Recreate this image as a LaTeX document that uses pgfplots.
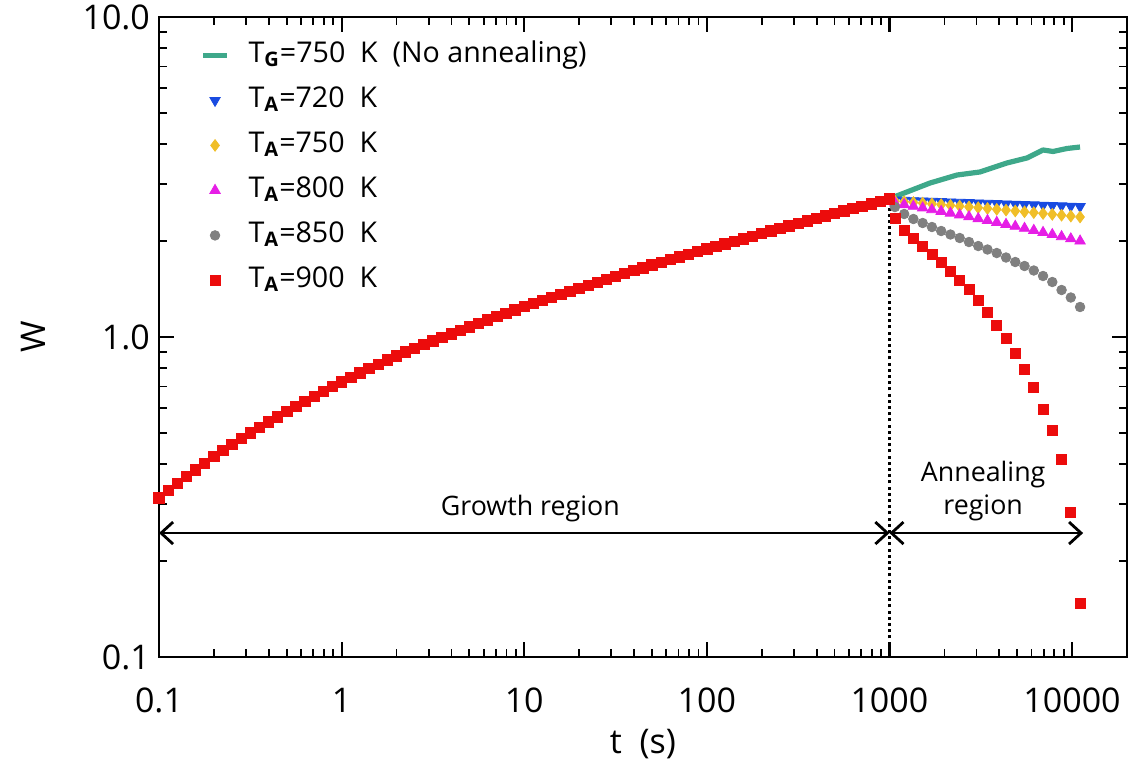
\documentclass[border=0pt]{standalone}
\usepackage{fontspec}
\setmainfont{Open Sans}
\usepackage{pgfplots}
\usepackage{pgfplotstable}
\pgfplotsset{compat=1.18}
\usetikzlibrary{arrows.meta}

\definecolor{cgreen}{RGB}{62,168,138}
\definecolor{cblue}{RGB}{25,75,225}
\definecolor{cyellow}{RGB}{240,190,40}
\definecolor{cmag}{RGB}{230,30,230}
\definecolor{cgray}{RGB}{128,128,128}
\definecolor{cred}{RGB}{236,12,12}

\pgfplotstableread{
t W
0.1 0.3140
0.11220 0.3311
0.12589 0.3486
0.14125 0.3666
0.15849 0.3849
0.17783 0.4036
0.19953 0.4227
0.22387 0.4420
0.25119 0.4615
0.28184 0.4813
0.31623 0.5012
0.35481 0.5216
0.39811 0.5424
0.44668 0.5636
0.50119 0.5853
0.56234 0.6074
0.63096 0.6301
0.70795 0.6531
0.79433 0.6766
0.89125 0.7003
1 0.7244
1.1220 0.7485
1.2589 0.7729
1.4125 0.7974
1.5849 0.8222
1.7783 0.8472
1.9953 0.8722
2.2387 0.8972
2.5119 0.9224
2.8184 0.9476
3.1623 0.9727
3.5481 0.9982
3.9811 1.0240
4.4668 1.0503
5.0119 1.0769
5.6234 1.1041
6.3096 1.1313
7.0795 1.1590
7.9433 1.1871
8.9125 1.2155
10 1.2445
11.220 1.2729
12.589 1.3017
14.125 1.3311
15.849 1.3608
17.783 1.3909
19.953 1.4217
22.387 1.4528
25.119 1.4842
28.184 1.5164
31.623 1.5488
35.481 1.5805
39.811 1.6125
44.668 1.6451
50.119 1.6780
56.234 1.7112
63.096 1.7450
70.795 1.7791
79.433 1.8134
89.125 1.8484
100 1.8836
112.20 1.9187
125.89 1.9544
141.25 1.9907
158.49 2.0277
177.83 2.0654
199.53 2.1038
223.87 2.1429
251.19 2.1827
281.84 2.2233
316.23 2.2646
354.81 2.3052
398.11 2.3464
446.68 2.3884
501.19 2.4311
562.34 2.4746
630.96 2.5188
707.95 2.5639
794.33 2.6097
891.25 2.6564
1000 2.7040
}\growth

\pgfplotstableread{
t b y m g r
1071.5 2.6800 2.6607 2.6227 2.5480 2.3490
1204.2 2.6737 2.6473 2.5924 2.4230 2.1600
1353.0 2.6675 2.6336 2.5619 2.3375 2.0340
1520.6 2.6612 2.6200 2.5312 2.2712 1.9250
1709.0 2.6550 2.6062 2.5003 2.2067 1.8170
1920.7 2.6488 2.5922 2.4693 2.1441 1.7090
2158.6 2.6426 2.5782 2.4381 2.0908 1.6080
2426.0 2.6365 2.5640 2.4068 2.0388 1.5070
2726.5 2.6303 2.5498 2.3755 1.9810 1.4100
3064.2 2.6242 2.5354 2.3440 1.9248 1.3050
3443.5 2.6181 2.5209 2.3124 1.8769 1.1970
3870.2 2.6120 2.5064 2.2808 1.8302 1.0900
4349.6 2.6059 2.4917 2.2491 1.7719 0.9906
4888.0 2.5998 2.4770 2.2173 1.7155 0.8894
5493.8 2.5937 2.4621 2.1856 1.6668 0.7927
6173.9 2.5877 2.4472 2.1538 1.6137 0.6963
6938.4 2.5816 2.4322 2.1220 1.5511 0.5944
7798.0 2.5756 2.4171 2.0902 1.4855 0.5096
8763.5 2.5696 2.4019 2.0585 1.4024 0.4148
9846.9 2.5636 2.3867 2.0269 1.3287 0.2833
11066 2.5576 2.3714 1.9953 1.2410 0.1472
}\anneal

\pgfplotstableread{
t W
1000 2.7040
1669 3.029
2345 3.208
3135 3.279
4406 3.499
5670 3.627
6937 3.842
7870 3.800
9389 3.883
11060 3.925
}\nogrowth

\begin{document}
\begin{tikzpicture}
\begin{axis}[name=ax, scale only axis, width=484pt, height=320pt,
  xmode=log, ymode=log, xmin=0.1, xmax=20000, ymin=0.1, ymax=10,
  clip=false,
  xtick={0.1,1,10,100,1000,10000}, xticklabels={0.1,1,10,100,1000,10000},
  ytick={0.1,1,10}, yticklabels={0.1,1.0,\raisebox{-6pt}{10.0}},
  tick label style={font=\fontsize{17}{20}\selectfont},
  xticklabel style={anchor=center, yshift=-21.5pt},
  yticklabel style={anchor=east, xshift=-1pt},
  axis line style={line width=1.4pt},
  major tick style={line width=1.1pt, black}, minor tick style={line width=0.9pt, black},
  major tick length=7.5pt, minor tick length=3.8pt,
  xlabel={t~~(s)}, ylabel={W},
  every axis x label/.style={at={(axis description cs:0.5,-0.136)}, anchor=center, font=\fontsize{17}{20}\selectfont},
  every axis y label/.style={at={(axis description cs:-0.130,0.5)}, rotate=90, anchor=center, font=\fontsize{17}{20}\selectfont},
  legend style={at={(axis description cs:0.0424,0.9625)}, anchor=north west, draw=none, fill=none,
    font=\fontsize{14.3}{16}\selectfont, inner sep=0pt, row sep=8.5pt,
    nodes={inner sep=0pt, text height=10.5pt, text depth=3.5pt},
    /tikz/every odd column/.append style={column sep=9.5pt}},
  legend cell align=left,
  legend image code/.code={\draw[mark repeat=2,mark phase=2,#1] plot coordinates {(0pt,0pt)(6pt,0pt)(12pt,0pt)};},
]
\addplot[cgreen, line width=2.6pt, line join=round] table[x=t,y=W] {\nogrowth};
\addlegendentry{T\textsubscript{\textbf{G}}=750~~K~~(No annealing)}
\addplot[only marks, mark=triangle*, mark size=3pt, mark options={rotate=180, cblue, draw=none, fill=cblue}] table[x=t,y=b] {\anneal};
\addlegendentry{T\textsubscript{\textbf{A}}=720~~K}
\addplot[only marks, mark=diamond*, mark size=2.9pt, mark options={cyellow, draw=none, fill=cyellow}] table[x=t,y=y] {\anneal};
\addlegendentry{T\textsubscript{\textbf{A}}=750~~K}
\addplot[only marks, mark=triangle*, mark size=3pt, mark options={cmag, draw=none, fill=cmag}] table[x=t,y=m] {\anneal};
\addlegendentry{T\textsubscript{\textbf{A}}=800~~K}
\addplot[only marks, mark=*, mark size=2.4pt, mark options={cgray, draw=none, fill=cgray}] table[x=t,y=g] {\anneal};
\addlegendentry{T\textsubscript{\textbf{A}}=850~~K}
\addplot[only marks, mark=square*, mark size=2.6pt, mark options={cred, draw=none, fill=cred}, forget plot] table[x=t,y=W] {\growth};
\addplot[only marks, mark=square*, mark size=2.5pt, mark options={cred, draw=none, fill=cred}] table[x=t,y=r] {\anneal};
\addlegendentry{T\textsubscript{\textbf{A}}=900~~K}
\addplot[black, line width=1.6pt, dash pattern=on 1.5pt off 1.6pt, forget plot] coordinates {(1000,0.1) (1000,2.70)};
\draw[line width=1.4pt, {Straight Barb[length=6pt,width=11pt]}-{Straight Barb[length=6pt,width=11pt]}] (axis cs:0.1,0.244) -- (axis cs:1000,0.244);
\draw[line width=1.4pt, {Straight Barb[length=6pt,width=11pt]}-{Straight Barb[length=6pt,width=11pt]}] (axis cs:1000,0.244) -- (axis cs:11500,0.244);
\node[font=\fontsize{13.4}{16.5}\selectfont, anchor=center] at (axis cs:10.8,0.292) {Growth region};
\node[font=\fontsize{13.4}{16.5}\selectfont, anchor=center, align=center] at (axis cs:3260,0.330) {Annealing\\region};
\end{axis}
\pgfresetboundingbox
\path ([xshift=-79.5pt,yshift=-52.5pt]ax.south west) rectangle ([xshift=1.5pt,yshift=8.5pt]ax.north east);
\end{tikzpicture}
\end{document}
